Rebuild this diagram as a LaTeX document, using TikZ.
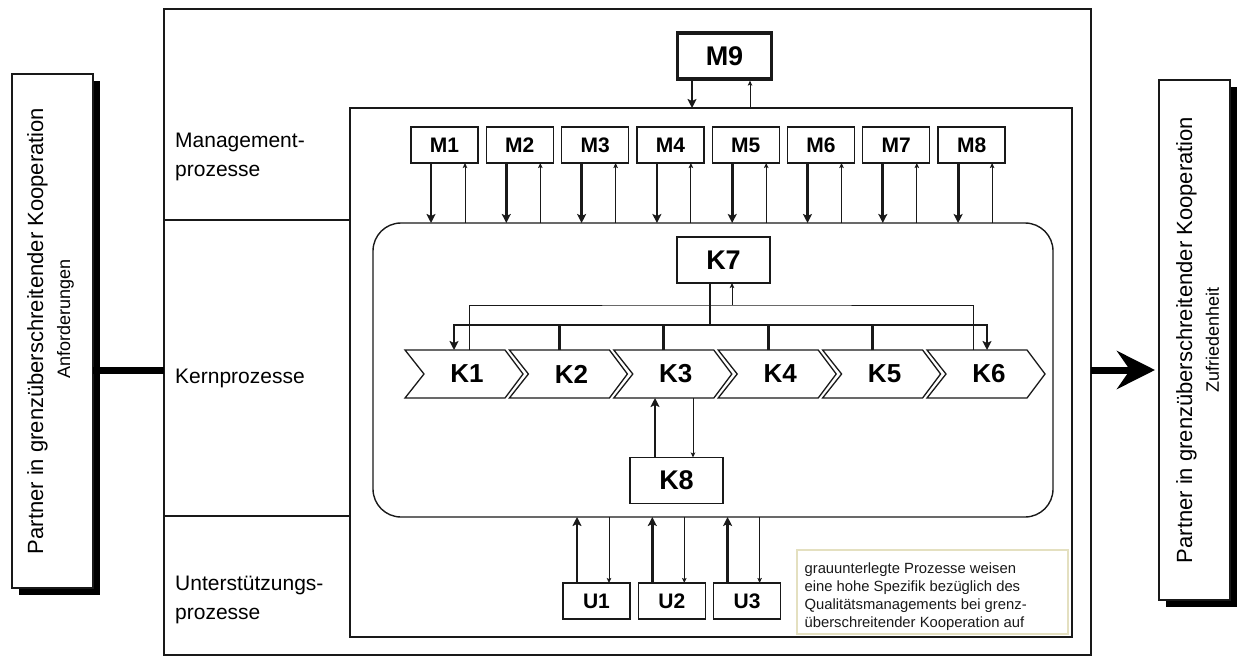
\documentclass[tikz,border=0pt]{standalone}
\usepackage{fontspec}
\setmainfont{Liberation Sans}
\usetikzlibrary{arrows.meta,shadows,calc}
\definecolor{notec}{RGB}{228,224,192}
\definecolor{ink}{RGB}{25,25,25}
\begin{document}
\begin{tikzpicture}[x=1pt,y=-1pt,
  frame/.style={draw=ink, line width=1.4pt, inner sep=0pt, outer sep=0pt},
  pbox/.style={draw=ink, line width=1.3pt, fill=white, inner sep=0pt, outer sep=0pt, minimum width=67pt, minimum height=36pt, font=\fontsize{21}{24}\selectfont\bfseries},
  bigbox/.style={draw=ink, line width=1.3pt, fill=white, inner sep=0pt, outer sep=0pt, minimum width=93pt, minimum height=46pt, font=\fontsize{27}{30}\selectfont\bfseries},
  knode/.style={inner sep=0pt, outer sep=0pt, minimum width=118pt, minimum height=48pt, font=\fontsize{26}{30}\selectfont\bfseries},
  chev/.style={draw=ink, line width=1.3pt, fill=white, line join=miter},
  lbl/.style={anchor=west, align=left, inner sep=0pt, font=\fontsize{21}{29}\selectfont},
  thkline/.style={draw=ink, line width=2.8pt},
  thnline/.style={draw=ink, line width=1pt},
  bigtip/.tip={Stealth[length=9pt,width=9pt,inset=2pt]},
  smalltip/.tip={Stealth[length=5pt,width=4.5pt,inset=1pt]},
  thkarrow/.style={thkline, -bigtip},
  thnarrow/.style={thnline, -smalltip},
  partner/.style={draw=ink, line width=2pt, fill=white, inner sep=0pt, outer sep=0pt,
    drop shadow={shadow xshift=7pt, shadow yshift=-7pt, fill=black, opacity=1}},
  ptext/.style={rotate=90, inner sep=0pt, font=\fontsize{22}{28}\selectfont},
  psub/.style={rotate=90, inner sep=0pt, font=\fontsize{18}{22}\selectfont}
]
\useasboundingbox (0,0) rectangle (1241,663);

% frames
\node[frame, minimum width=927pt, minimum height=646pt] (outer) at (627.5,332) {};
\node[frame, minimum width=722pt, minimum height=529pt] (inner) at (711,372.5) {};
\node[frame, rounded corners=28pt, minimum width=680pt, minimum height=294pt] (core) at (713,370) {};

\coordinate (d1) at (0,220);
\coordinate (d2) at (0,516);
\coordinate (a370) at (0,370);
\draw[frame] (outer.west |- d1) -- (inner.west |- d1);
\draw[frame] (outer.west |- d2) -- (inner.west |- d2);

% left labels
\node[lbl] (lm) at (175,157) {Management-\\prozesse};
\node[lbl] (lk) at (175,378) {Kernprozesse};
\node[lbl] (lu) at (175,600) {Unterstützungs-\\prozesse};

% partners
\node[partner, minimum width=81pt, minimum height=514pt] (PL) at (52.5,331) {};
\node[ptext] (PLt) at ([xshift=-15pt]PL.center) {Partner in grenzüberschreitender Kooperation};
\node[psub] (PLs) at ([xshift=13pt,yshift=12pt]PL.center) {Anforderungen};
\node[partner, minimum width=71pt, minimum height=520pt] (PR) at (1194.5,340) {};
\node[ptext] (PRt) at ([xshift=-8pt]PR.center) {Partner in grenzüberschreitender Kooperation};
\node[psub] (PRs) at ([xshift=18pt]PR.center) {Zufriedenheit};

\draw[draw=black, line width=7pt] (PL.east |- a370) -- (outer.west |- a370);
\draw[draw=black, line width=7pt, -{Stealth[length=38pt,width=38pt,inset=13pt]}, shorten >=4pt] (outer.east |- a370) -- (PR.west |- a370);

% M9
\node[draw=ink, line width=3.2pt, fill=white, inner sep=0pt, minimum width=94pt, minimum height=46pt, font=\fontsize{27}{30}\selectfont\bfseries] (M9) at (724.5,56) {M9};
\coordinate (m9d) at ([xshift=-32.5pt]M9.south);
\coordinate (m9u) at ([xshift=25.5pt]M9.south);
\draw[thkarrow] (m9d) -- (m9d |- inner.north);
\draw[thnarrow] (m9u |- inner.north) -- (m9u);

% M1..M8
\foreach \i in {1,...,8} {
  \pgfmathsetmacro\cx{444.5+75.3*(\i-1)}
  \node[pbox] (M\i) at (\cx,145) {M\i};
  \coordinate (Md\i) at ([xshift=-13.5pt]M\i.south);
  \coordinate (Mu\i) at ([xshift=20.5pt]M\i.south);
  \draw[thkarrow] (Md\i) -- (Md\i |- core.north);
  \draw[thnarrow] (Mu\i |- core.north) -- (Mu\i);
}

% chevrons K1..K6
\foreach \i in {1,...,6} {
  \pgfmathsetmacro\L{405+104.4*(\i-1)}
  \draw[chev] (\L,350) -- (\L+100,350) -- (\L+118,374) -- (\L+100,398) -- (\L,398) -- (\L+19,374) -- cycle;
  \node[knode] (K\i) at (\L+62,374) {K\i};
}

% K7
\node[bigbox] (K7) at (723.5,260) {K7};
\coordinate (ybus) at (0,325);
\coordinate (ythin) at (0,305);
\coordinate (kj) at ([xshift=-13.5pt]K7.south);
\coordinate (kt) at ([xshift=8.5pt]K7.south);
\coordinate (k1a) at ([xshift=-13pt]K1.north);
\coordinate (k6a) at ([xshift=-2pt]K6.north);
\coordinate (k1t) at ([xshift=2pt]K1.north);
\coordinate (k6t) at ([xshift=-16pt]K6.north);
\draw[thnline] (k1t) |- (kt |- ythin) -| (k6t);
\draw[thnarrow] (kt |- ythin) -- (kt);
\draw[thkline] (kj) -- (kj |- ybus);
\draw[thkline, bigtip-bigtip] (k1a) |- (kj |- ybus) -| (k6a);
\foreach \i in {2,...,5} {
  \coordinate (kd\i) at ([xshift=-12pt]K\i.north);
  \draw[thkline] (kd\i) -- (kd\i |- ybus);
}

% K8
\node[bigbox] (K8) at (676.5,480.5) {K8};
\coordinate (k8u) at ([xshift=-21.5pt]K8.north);
\coordinate (k8d) at ([xshift=16.5pt]K8.north);
\draw[thkarrow] (k8u) -- (k8u |- K3.south);
\draw[thnarrow] (k8d |- K3.south) -- (k8d);

% U1..U3
\foreach \i in {1,2,3} {
  \pgfmathsetmacro\cx{596.5+75.3*(\i-1)}
  \node[pbox] (U\i) at (\cx,601) {U\i};
  \coordinate (Uu\i) at ([xshift=-19.5pt]U\i.north);
  \coordinate (Ud\i) at ([xshift=12.5pt]U\i.north);
  \draw[thkarrow] (Uu\i) -- (Uu\i |- core.south);
  \draw[thnarrow] (Ud\i |- core.south) -- (Ud\i);
}

% note
\node[draw=notec, line width=1.2pt, inner sep=0pt, minimum width=271pt, minimum height=84pt] (note) at (932.5,592) {};
\node[anchor=west, align=left, inner sep=0pt, text=ink, font=\fontsize{14.8}{18}\selectfont] (notetext) at ([xshift=8pt,yshift=-5pt]note.west) {grauunterlegte Prozesse weisen\\eine hohe Spezifik bezüglich des\\Qualitätsmanagements bei grenz-\\überschreitender Kooperation auf};
\end{tikzpicture}
\end{document}
